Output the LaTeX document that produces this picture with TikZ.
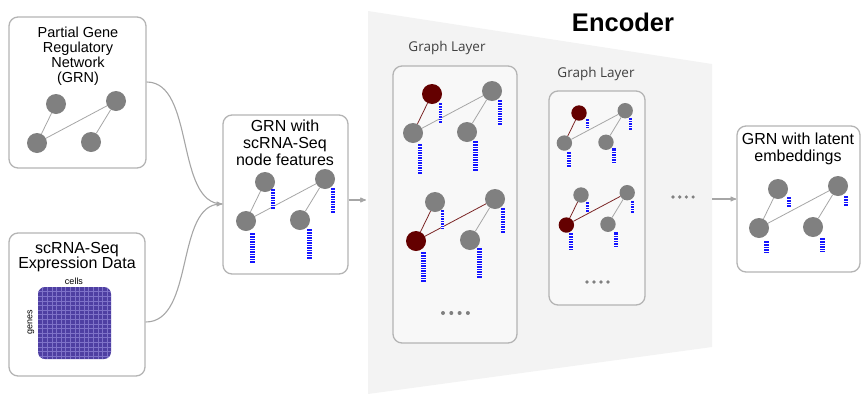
\documentclass[tikz,border=0pt]{standalone}
\usepackage{fontspec}
\setmainfont{Liberation Sans}
\newfontfamily\layerfont{Open Sans}
\usetikzlibrary{calc}
\usetikzlibrary{arrows}

\definecolor{nodegray}{HTML}{808080}
\definecolor{darkred}{HTML}{640000}
\definecolor{edgegray}{HTML}{A6A6A6}
\definecolor{boxgray}{HTML}{B4B4B4}
\definecolor{encgray}{HTML}{F3F3F3}
\definecolor{barblue}{HTML}{1414FF}
\definecolor{matpurple}{HTML}{4E3FA2}
\definecolor{matgrid}{HTML}{7E72C8}

% one gene graph: prefix, origin, scale, style of a, style of c, edge a-c, edge c-b
\newcommand{\genegraph}[7]{%
  \begin{scope}[shift={#2}, scale=#3, every node/.append style={transform shape}]
    \node[#4] (#1a) at (0,0) {};
    \node[gnode] (#1b) at (60,-3) {};
    \node[#5] (#1c) at (-19,39) {};
    \node[gnode] (#1d) at (35,38) {};
  \end{scope}
  \draw[#6] (#1a) -- (#1c);
  \draw[#7] (#1c) -- (#1b);
  \draw[edge] (#1b) -- (#1d);
}

% striped feature vector next to a node: node, offset, width, height
\newcommand{\featbar}[4]{%
  \fill[barblue] ($(#1)+(#2)$) rectangle ++(#3,#4);
  \pgfmathtruncatemacro{\nstripe}{(#4-1)/2.5}
  \foreach \k in {1,...,\nstripe}
    \draw[white, line width=0.5pt] ($(#1)+(#2)+(0,2.5*\k)$) -- ++(#3,0);
}

\begin{document}
\begin{tikzpicture}[x=1pt, y=-1pt,
  box/.style={draw=boxgray, line width=1.3pt, rounded corners=9pt, fill=white, inner sep=0},
  layerbox/.style={box, fill=encgray!60},
  gnode/.style={circle, fill=nodegray, minimum size=20pt, inner sep=0},
  rnode/.style={gnode, fill=darkred},
  edge/.style={edgegray, line width=0.8pt},
  redge/.style={darkred!85, line width=0.8pt},
  link/.style={edgegray, line width=1.1pt},
  title/.style={align=center, inner sep=0, font=\fontsize{16}{16.5}\selectfont},
  layertitle/.style={inner sep=0, text=black!75, font=\layerfont\fontsize{13.5}{14}\selectfont},
  dot/.style={fill=nodegray, circle, inner sep=0, minimum size=4pt}]
\useasboundingbox (0,0) rectangle (861,394);

% encoder background
\fill[encgray] (368,11) -- (712,64) -- (712,347) -- (368,394) -- cycle;
\node[font=\bfseries\fontsize{25.5}{26}\selectfont, inner sep=0] (enc) at (623,22) {Encoder};

% input boxes
\node[box, minimum width=137pt, minimum height=151pt] (grn) at (77.5,92.5) {};
\node[title, font=\fontsize{14.5}{15}\selectfont] (grnt) at (78,56) {Partial Gene\\Regulatory\\Network\\(GRN)};
\genegraph{g}{(56,104)}{1}{gnode}{gnode}{edge}{edge}

\node[box, minimum width=136pt, minimum height=143pt] (expr) at (77,304.5) {};
\node[title, font=\fontsize{16}{15.5}\selectfont] (exprt) at (77,257) {scRNA-Seq\\Expression Data};
% expression matrix
\fill[matpurple, rounded corners=7pt] (38,287) rectangle (111,359);
\begin{scope}
  \clip[rounded corners=7pt] (38,287) rectangle (111,359);
  \foreach \i in {1,...,15} {
    \draw[matgrid, line width=0.5pt] (38+4.6*\i,287) -- ++(0,72);
    \draw[matgrid, line width=0.5pt] (38,287+4.6*\i) -- ++(73,0);
  }
\end{scope}
\node[inner sep=0, font=\fontsize{9}{9}\selectfont] (cells) at (74,281) {cells};
\node[inner sep=0, rotate=90, font=\fontsize{9}{9}\selectfont] (genes) at (31,322) {genes};

% graph with node features
\node[box, minimum width=125pt, minimum height=159pt] (feat) at (285.5,194.5) {};
\node[title, font=\fontsize{16}{17}\selectfont] (featt) at (285,143) {GRN with\\scRNA-Seq\\node features};
\genegraph{f}{(265,182)}{1}{gnode}{gnode}{edge}{edge}
\featbar{fa}{6,7}{3.5}{21}
\featbar{fb}{6,9}{4}{26}
\featbar{fc}{4,12}{5}{31}
\featbar{fd}{7,9}{4.5}{30}

\coordinate (merge) at ([yshift=-9.5pt]feat.west);
\draw[link] ([yshift=10.5pt]grn.east) .. controls (195,82) and (175,204) .. (merge);
\draw[link, ->, >=stealth'] ([yshift=-17.5pt]expr.east) .. controls (195,322) and (175,204) .. (merge);

\coordinate (encin) at (366,200);
\draw[link, ->, >=stealth'] ([yshift=-5.5pt]feat.east) -- (encin);

% first graph layer
\node[layertitle] (lay1t) at (447,48) {Graph Layer};
\node[layerbox, minimum width=124pt, minimum height=277pt] (lay1) at (455,204.5) {};
\genegraph{t}{(432,94)}{1}{rnode}{gnode}{redge}{edge}
\featbar{ta}{7,9}{3}{20}
\featbar{tb}{6,9}{4}{25}
\featbar{tc}{5,11}{4}{30}
\featbar{td}{6,9}{5}{30}
\genegraph{u}{(435,202)}{1}{gnode}{rnode}{redge}{redge}
\featbar{ua}{6,8}{3}{19}
\featbar{ub}{6,9}{3.5}{25}
\featbar{uc}{5,11}{5}{30}
\featbar{ud}{7,8}{4.5}{30}
\foreach \i in {0,...,3}
  \node[dot] (d1\i) at (443+8.3*\i,313) {};

% second graph layer
\node[layertitle] (lay2t) at (596,74) {Graph Layer};
\node[layerbox, minimum width=96pt, minimum height=214pt] (lay2) at (597,198) {};
\genegraph{v}{(579,113)}{0.77}{rnode}{gnode}{redge}{edge}
\featbar{va}{7,6}{2.5}{9}
\featbar{vb}{4,7}{2.5}{12}
\featbar{vc}{3,9}{4}{16}
\featbar{vd}{6,6}{4}{16}
\genegraph{w}{(581,195)}{0.77}{gnode}{rnode}{redge}{redge}
\featbar{wa}{5,7}{2.5}{10}
\featbar{wb}{4,8}{2.5}{12}
\featbar{wc}{3,8}{4}{17}
\featbar{wd}{6,8}{4}{16}
\foreach \i in {0,...,3} {
  \node[dot, minimum size=3.6pt] (d2\i) at (587+7*\i,282) {};
  \node[dot, minimum size=3.6pt] (d3\i) at (673+6.7*\i,197) {};
}

% output
\node[box, minimum width=123pt, minimum height=146pt] (latent) at (798.5,199) {};
\node[title] (latentt) at (798,149) {GRN with latent\\embeddings};
\genegraph{z}{(778,189)}{1}{gnode}{gnode}{edge}{edge}
\featbar{za}{9,8}{4}{10}
\featbar{zb}{6,10}{3.5}{10}
\featbar{zc}{5,13}{5}{12}
\featbar{zd}{7,11}{5}{14}

\coordinate (encout) at (712,199);
\draw[link, ->, >=stealth'] (encout) -- (latent.west);
\end{tikzpicture}
\end{document}
